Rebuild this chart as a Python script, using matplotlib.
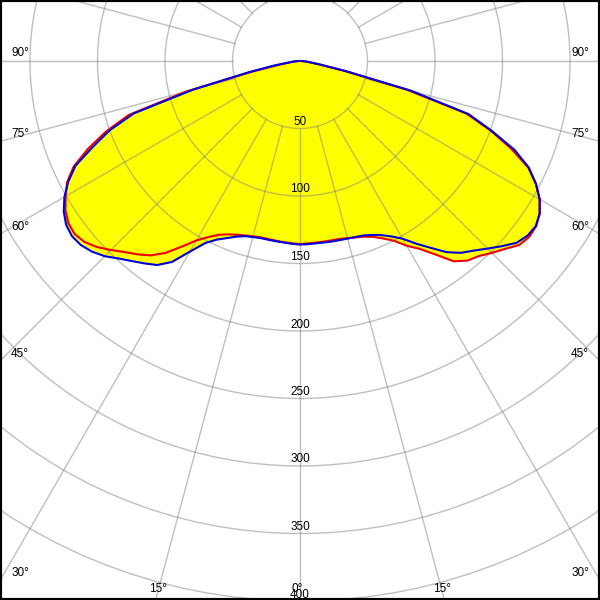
import numpy as np
import matplotlib
matplotlib.use("Agg")
import matplotlib.pyplot as plt
from matplotlib.patches import Circle

plt.rcParams["font.family"] = ["Liberation Sans", "DejaVu Sans"]

# ---- data (luminous intensity, cd/klm, vs. gamma angle in degrees) ----
gamma = [0, 2.5, 5, 7.5, 10, 12.5, 15, 17.5, 20, 22.5, 25, 27.5, 30, 32.5, 35, 37.5,
         40, 42.5, 45, 47.5, 50, 52.5, 55, 57.5, 60, 62.5, 65, 67.5, 70, 72.5, 75,
         77.5, 80, 85, 90]
blue_left = [136, 135.5, 135, 134.7, 134.5, 134.4, 135, 136, 138.5, 142, 146, 152, 163,
             176.5, 184.5, 189, 193.5, 198.5, 204.5, 209, 212, 213, 211.5, 207.5, 201.5,
             193.5, 183.5, 166, 150, 129, 82, 40, 20, 5, 1]
blue_right = [136, 135.8, 135.6, 135.6, 135.8, 135.9, 136.2, 136.7, 137.5, 139.5, 142.3,
              146.5, 152, 160.5, 169, 178.5, 185.5, 190.5, 196.5, 203, 209.5, 212.5, 213.2,
              210.5, 205, 197, 187, 172, 151, 131, 85, 35, 15, 5, 1]
red_left = [135.6, 135.2, 134.8, 134.3, 134, 133.8, 134.5, 135.5, 137, 139, 142, 147, 153.5,
            163, 173.5, 181.5, 187, 192, 198, 204, 208.5, 210.5, 209.5, 206, 200.5, 194.5,
            185, 170, 153, 133, 87, 36, 15, 5, 1]
red_right = [135.6, 135.3, 135, 134.9, 134.9, 135, 135.8, 137, 138.5, 141, 145, 150, 158,
             165, 175, 187, 193, 196, 201, 206, 212, 214, 213.5, 210.5, 205, 197, 186.5,
             169, 150, 129, 82, 34, 15, 5, 1]

ring_values = [50, 100, 150, 200, 250, 300, 350, 400]
ring_labels = ["50", "100", "150", "200", "250", "300", "350", "400"]
spoke_step = 15
side_angle_labels = [90, 75, 60, 45, 30]
bottom_angle_labels = [15, 0]

# ---- layout ----
PX = 1.35          # pixels per cd/klm
W = H = 600
CX, CY = 300, 61   # polar centre in pixels
GRID = "#808080"

fig = plt.figure(figsize=(6, 6), dpi=100)
ax = fig.add_axes([0, 0, 1, 1])
xe = CX / PX
yb = -(H - CY) / PX
ax.set_xlim(-xe, xe)
ax.set_ylim(yb, CY / PX)
ax.set_xticks([])
ax.set_yticks([])
for s in ax.spines.values():
    s.set_linewidth(3)
    s.set_color("black")


def curve(left, right):
    g = np.array(gamma, dtype=float)
    L = np.array(left, dtype=float)
    R = np.array(right, dtype=float)
    ang = np.radians(np.concatenate([g[::-1], g[1:]]))
    r = np.concatenate([L[::-1], R[1:]])
    sign = np.concatenate([-np.ones(len(g)), np.ones(len(g) - 1)])
    return sign * r * np.sin(ang), -r * np.cos(ang)


bx, by = curve(blue_left, blue_right)
rx, ry = curve(red_left, red_right)

ax.fill(bx, by, color="#ffff00", lw=0, zorder=1)
ax.fill(rx, ry, color="#ffff00", lw=0, zorder=1)

# grid rings
for rv in ring_values:
    ax.add_patch(Circle((0, 0), rv, fill=False, ec=GRID, alpha=0.5, lw=1, zorder=2))
# spokes
r0, r1 = ring_values[0], 800
for a in np.arange(0, 360, spoke_step):
    t = np.radians(a)
    ax.plot([r0 * np.sin(t), r1 * np.sin(t)], [-r0 * np.cos(t), -r1 * np.cos(t)],
            color=GRID, alpha=0.5, lw=1, zorder=2)

ax.plot(rx, ry, color="#ee0000", lw=1.5, zorder=3, solid_joinstyle="round")
ax.plot(bx, by, color="#0000dd", lw=1.5, zorder=4, solid_joinstyle="round")

pt = 0.72  # points per pixel
fs = 8.5
# ring labels
for rv, lab in zip(ring_values, ring_labels):
    ax.annotate(lab, xy=(0, -rv), xytext=(0, 6.5 * pt), textcoords="offset points",
                ha="center", va="center", fontsize=fs, zorder=5, annotation_clip=False)
# side angle labels
for g in side_angle_labels:
    t = np.radians(g)
    yint = -xe * np.cos(t) / np.sin(t)
    for side in (-1, 1):
        ax.annotate(f"{g}°", xy=(side * xe, yint), xytext=(-side * 20 * pt, 7.5 * pt),
                    textcoords="offset points", ha="center", va="center", fontsize=fs,
                    zorder=5, annotation_clip=False)
# bottom angle labels
for g in bottom_angle_labels:
    t = np.radians(g)
    xint = -yb * np.tan(t)
    sides = (1,) if g == 0 else (-1, 1)
    for side in sides:
        ax.annotate(f"{g}°", xy=(side * xint, yb), xytext=(-side * 2.5 * pt, 11.5 * pt),
                    textcoords="offset points", ha="center", va="center", fontsize=fs,
                    zorder=5, annotation_clip=False)

fig.savefig("out.png", dpi=100)
